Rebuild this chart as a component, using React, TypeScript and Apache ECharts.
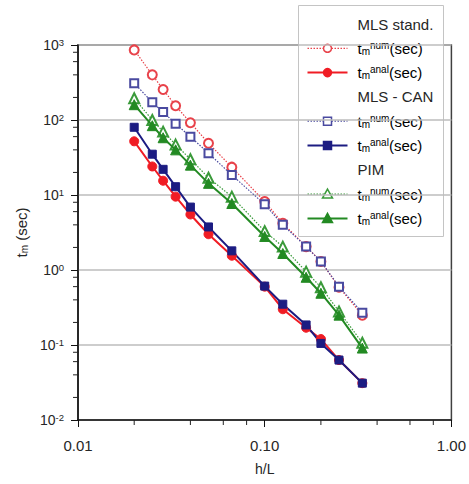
import React, { useEffect, useRef } from 'react';
import * as echarts from 'echarts';

// h/L sample points
const hOverL = [0.02, 0.025, 1 / 35, 1 / 30, 0.04, 0.05, 1 / 15, 0.1, 0.125, 1 / 6, 0.2, 0.25, 1 / 3];

// t_m (sec)
const mlsStandNum = [860, 400, 255, 155, 92, 49, 23.5, 8.2, 4.2, 2.05, 1.3, 0.59, 0.25];
const mlsStandAnal = [52, 24, 15.5, 9.5, 5.5, 3.0, 1.55, 0.6, 0.3, 0.17, 0.12, 0.063, 0.031];
const mlsCanNum = [310, 172, 128, 89, 60, 36, 18.5, 7.5, 4.0, 2.05, 1.3, 0.6, 0.27];
const mlsCanAnal = [80, 35, 22, 12.9, 6.9, 3.75, 1.8, 0.61, 0.35, 0.185, 0.105, 0.063, 0.031];
const pimNum = [195, 100, 70, 47, 30, 17, 9.5, 3.3, 2.05, 0.95, 0.59, 0.28, 0.107];
const pimAnal = [160, 84, 58, 40, 25, 14.3, 7.7, 2.8, 1.66, 0.8, 0.49, 0.25, 0.091];

const xTickLabels = ['0.01', '0.10', '1.00'];
const minorMultipliers = [2, 4, 6, 8];
const groupNames = ['MLS stand.', 'MLS - CAN', 'PIM'];

const FONT = '"Liberation Sans", Arial, Helvetica, sans-serif';
const TXT = '#262626';

type Def = { group: number; kind: 'num' | 'anal'; data: number[]; color: string; symbol: string };
const defs: Def[] = [
  { group: 0, kind: 'num', data: mlsStandNum, color: '#e8424a', symbol: 'circle' },
  { group: 0, kind: 'anal', data: mlsStandAnal, color: '#f01c24', symbol: 'circle' },
  { group: 1, kind: 'num', data: mlsCanNum, color: '#4a4aa0', symbol: 'rect' },
  { group: 1, kind: 'anal', data: mlsCanAnal, color: '#1c1c82', symbol: 'rect' },
  { group: 2, kind: 'num', data: pimNum, color: '#3a9a3a', symbol: 'triangle' },
  { group: 2, kind: 'anal', data: pimAnal, color: '#238a23', symbol: 'triangle' },
];

const richT = {
  t: { fontSize: 15, lineHeight: 16, verticalAlign: 'middle', fontFamily: FONT, color: TXT },
  s: { fontSize: 10, lineHeight: 6, verticalAlign: 'bottom', fontFamily: FONT, color: TXT },
  p: { fontSize: 10, lineHeight: 8, verticalAlign: 'top', fontFamily: FONT, color: TXT },
};

function legendGraphic() {
  const children: any[] = [];
  const W = 145;
  const H = 231;
  children.push({
    type: 'rect',
    shape: { x: 0, y: 0, width: W, height: H },
    style: { fill: '#fff', stroke: '#c4c4c4', lineWidth: 1 },
  });
  const step = 24.3;
  let row = 0;
  groupNames.forEach((g, gi) => {
    const yh = 18.5 + row * step;
    children.push({
      type: 'text',
      x: 59,
      y: yh,
      style: { text: g, font: `15px ${FONT}`, fill: TXT, verticalAlign: 'middle', align: 'left' },
    });
    row++;
    defs
      .filter((d) => d.group === gi)
      .forEach((d) => {
        const y = 18.5 + row * step;
        const dotted = d.kind === 'num';
        children.push({
          type: 'line',
          shape: { x1: 9, y1: y, x2: 49, y2: y },
          style: { stroke: d.color, lineWidth: dotted ? 1.2 : 2, lineDash: dotted ? [1.5, 1.5] : null },
        });
        const fill = dotted ? '#fff' : d.color;
        const st = { fill, stroke: d.color, lineWidth: 1.5 };
        if (d.symbol === 'circle') children.push({ type: 'circle', shape: { cx: 29, cy: y, r: 4 }, style: st });
        else if (d.symbol === 'rect')
          children.push({ type: 'rect', shape: { x: 25, y: y - 4, width: 8, height: 8 }, style: st });
        else
          children.push({
            type: 'polygon',
            shape: { points: [[29, y - 5], [34, y + 4], [24, y + 4]] },
            style: st,
          });
        children.push({
          type: 'text',
          x: 59,
          y: y,
          style: {
            text: `{t|t}{s|m}{p|${d.kind}}{t|(sec)}`,
            rich: richT,
            verticalAlign: 'middle',
            align: 'left',
          },
        });
        row++;
      });
  });
  return { type: 'group', left: 298, top: 5, z: 100, children };
}

function tickSeries(values: number[], dir: 'x' | 'y') {
  return {
    type: 'custom',
    silent: true,
    clip: false,
    z: 5,
    renderItem: (_p: any, api: any) => {
      const c = api.coord([api.value(0), api.value(1)]);
      const shape =
        dir === 'x'
          ? { x1: c[0], y1: c[1], x2: c[0], y2: c[1] + 5 }
          : { x1: c[0] - 5, y1: c[1], x2: c[0] + 1, y2: c[1] };
      return { type: 'line', shape, style: { stroke: '#222', lineWidth: 1 } };
    },
    data: values.map((v) => (dir === 'x' ? [v, 0.01] : [0.01, v])),
  };
}

export default function App() {
  const ref = useRef<HTMLDivElement>(null);
  useEffect(() => {
    if (!ref.current) return;
    const chart = echarts.init(ref.current, null, { renderer: 'svg' });

    const xMinor: number[] = [];
    [0.01, 0.1].forEach((d) => minorMultipliers.forEach((m) => xMinor.push(m * d)));
    const yMinor: number[] = [];
    [0.01, 0.1, 1, 10, 100].forEach((d) => minorMultipliers.forEach((m) => yMinor.push(m * d)));

    const lineSeries = defs.map((d) => ({
      type: 'line',
      name: `${groupNames[d.group]} t_m^${d.kind}(sec)`,
      data: hOverL.map((x, i) => [x, d.data[i]]),
      symbol: d.kind === 'num' ? 'empty' + d.symbol.charAt(0).toUpperCase() + d.symbol.slice(1) : d.symbol,
      symbolSize: d.symbol === 'triangle' ? 10 : d.symbol === 'rect' ? 8 : 9,
      lineStyle: {
        color: d.color,
        width: d.kind === 'num' ? 1.2 : 2,
        type: d.kind === 'num' ? [1.5, 1.5] : 'solid',
      },
      itemStyle: { color: d.color, borderColor: d.color, borderWidth: d.kind === 'num' ? 1.5 : 1 },
      z: d.kind === 'num' ? 3 : 4,
    }));

    chart.setOption({
      animation: false,
      backgroundColor: '#fff',
      grid: {
        left: 78,
        right: 16,
        top: 45,
        bottom: 64,
        show: true,
        borderColor: '#404040',
        borderWidth: 1.5,
        backgroundColor: 'transparent',
      },
      xAxis: {
        type: 'log',
        logBase: 10,
        min: 0.01,
        max: 1,
        name: 'h/L',
        nameLocation: 'middle',
        nameGap: 42,
        nameTextStyle: { fontSize: 14, fontFamily: FONT, color: TXT },
        axisLine: { show: true, lineStyle: { color: '#111', width: 1.5 } },
        axisTick: { show: true, length: 7, inside: false, lineStyle: { color: '#111', width: 1 } },
        axisLabel: {
          margin: 18,
          fontSize: 15,
          fontFamily: FONT,
          color: TXT,
          formatter: (v: number) => {
            const i = Math.round(Math.log10(v) + 2);
            return xTickLabels[i] ?? v.toFixed(2);
          },
        },
        splitLine: { show: false },
      },
      yAxis: {
        type: 'log',
        logBase: 10,
        min: 0.01,
        max: 1000,
        name: '{t|t}{s|m}{t| (sec)}',
        nameLocation: 'middle',
        nameRotate: 90,
        nameGap: 48,
        nameTextStyle: { rich: richT },
        axisLine: { show: true, lineStyle: { color: '#111', width: 1.5 } },
        axisTick: { show: true, length: 7, lineStyle: { color: '#111', width: 1 } },
        axisLabel: {
          margin: 14,
          formatter: (v: number) => `{b|10}{e|${Math.round(Math.log10(v))}}`,
          rich: {
            b: { fontSize: 14, lineHeight: 16, verticalAlign: 'middle', fontFamily: FONT, color: TXT },
            e: { fontSize: 9.5, lineHeight: 8, verticalAlign: 'top', fontFamily: FONT, color: TXT },
          },
        },
        splitLine: { show: true, lineStyle: { color: '#bdbdbd', width: 1.5 } },
      },
      graphic: [legendGraphic()],
      series: [...lineSeries, tickSeries(xMinor, 'x'), tickSeries(yMinor, 'y')],
    });
    return () => chart.dispose();
  }, []);
  return (
    <div
      ref={ref}
      style={{ position: 'fixed', left: 0, top: 0, width: 469, height: 484, background: '#fff' }}
    />
  );
}
